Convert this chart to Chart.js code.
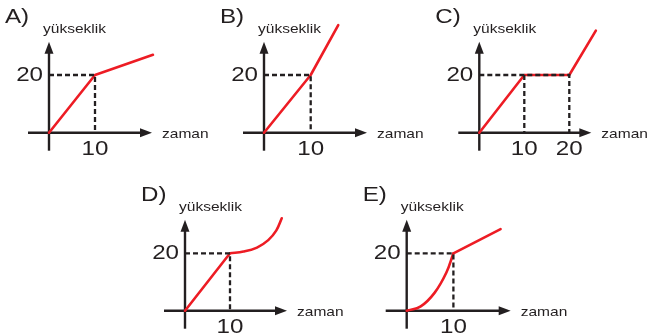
<!DOCTYPE html>
<html>
<head>
<meta charset="utf-8">
<script src="https://cdn.jsdelivr.net/npm/chart.js@4"></script>
<style>
  body { margin: 0; background: #fff; width: 649px; height: 336px; position: relative; overflow: hidden; }
  canvas { position: absolute; }
</style>
</head>
<body>
<script>
// ---------- data ----------
const PANEL_NAMES = ["A)", "B)", "C)", "D)", "E)"];
const Y_LABEL = "yükseklik";
const X_LABEL = "zaman";

const A_lineX = [0, 10, 22.6];
const A_lineY = [0, 20, 27];
const B_lineX = [0, 10, 15.9];
const B_lineY = [0, 20, 37.3];
const C_lineX = [0, 10, 20, 25.9];
const C_lineY = [0, 20, 20, 35.4];
const D_lineX = [0, 10];
const D_lineY = [0, 20];
const D_curveX = [10, 13, 16, 18.5, 20.3, 21.5];
const D_curveY = [20, 20.6, 22, 24.6, 28, 32.2];
const E_curveX = [0, 3, 6, 8.5, 10];
const E_curveY = [0, 1.5, 6.3, 13.3, 20];
const E_lineX = [10, 20.1];
const E_lineY = [20, 28.4];

// dashed guide lines
const guideX = [0, 10, 10];
const guideY = [20, 20, 0];
const C_guideX = [0, 20, 20];
const C_guideY = [20, 20, 0];
const C_guide2X = [10, 10];
const C_guide2Y = [20, 0];

// tick labels
const xTicks = [10];
const yTicks = [20];
const C_xTicks = [10, 20];

// ---------- layout (page pixels) ----------
const panels = [
  { left: 0,   top: 0,   w: 216, h: 168, ox: 49,    oy: 132.7, sx: 4.6,  sy: 2.885, xLen: 103,
    red: [[A_lineX, A_lineY, false]], guides: [[guideX, guideY]], xt: xTicks },
  { left: 215, top: 0,   w: 216, h: 168, ox: 264,   oy: 132.7, sx: 4.67, sy: 2.885, xLen: 103,
    red: [[B_lineX, B_lineY, false]], guides: [[guideX, guideY]], xt: xTicks },
  { left: 430, top: 0,   w: 219, h: 168, ox: 479.3, oy: 132.7, sx: 4.5,  sy: 2.885, xLen: 112,
    red: [[C_lineX, C_lineY, false]], guides: [[C_guideX, C_guideY], [C_guide2X, C_guide2Y]], xt: C_xTicks },
  { left: 130, top: 168, w: 216, h: 168, ox: 185,   oy: 310.7, sx: 4.5,  sy: 2.87,  xLen: 102,
    red: [[D_lineX, D_lineY, false], [D_curveX, D_curveY, true]], guides: [[guideX, guideY]], xt: xTicks },
  { left: 355, top: 168, w: 216, h: 168, ox: 406.7, oy: 310.7, sx: 4.67, sy: 2.87,  xLen: 104,
    red: [[E_curveX, E_curveY, true], [E_lineX, E_lineY, false]], guides: [[guideX, guideY]], xt: xTicks }
];

const RED = "#ed1c24";
const INK = "#231f20";
const FONT = '"Liberation Sans", Arial, sans-serif';
const HSCALE = 1.15;

function pts(xs, ys){ return xs.map((x, i) => ({ x, y: ys[i] })); }

function drawText(ctx, str, x, y, size, align, baseline){
  ctx.save();
  ctx.translate(x, y);
  ctx.scale(HSCALE, 1);
  ctx.font = `${size}px ${FONT}`;
  ctx.textAlign = align;
  ctx.textBaseline = baseline;
  ctx.fillStyle = INK;
  ctx.fillText(str, 0, 0);
  ctx.restore();
}

const sketchAxes = {
  id: "sketchAxes",
  beforeDatasetsDraw(chart, args, opts){
    const { ctx, scales: { x, y } } = chart;
    const ox = x.getPixelForValue(0), oy = y.getPixelForValue(0);
    ctx.save();
    ctx.strokeStyle = INK;
    ctx.fillStyle = INK;
    ctx.lineWidth = 2.4;
    // vertical axis
    ctx.beginPath(); ctx.moveTo(ox, oy + 18); ctx.lineTo(ox, oy - 82); ctx.stroke();
    ctx.beginPath();
    ctx.moveTo(ox, oy - 91); ctx.lineTo(ox - 4.5, oy - 79); ctx.lineTo(ox + 4.5, oy - 79);
    ctx.closePath(); ctx.fill();
    // horizontal axis
    const len = opts.xLen;
    ctx.beginPath(); ctx.moveTo(ox - 21, oy); ctx.lineTo(ox + len - 9, oy); ctx.stroke();
    ctx.beginPath();
    ctx.moveTo(ox + len, oy); ctx.lineTo(ox + len - 12, oy - 4.5); ctx.lineTo(ox + len - 12, oy + 4.5);
    ctx.closePath(); ctx.fill();
    ctx.restore();
  },
  afterDatasetsDraw(chart, args, opts){
    const { ctx, scales: { x, y } } = chart;
    const ox = x.getPixelForValue(0), oy = y.getPixelForValue(0);
    drawText(ctx, opts.name, ox - 44, oy - 115, 21, "left", "middle");
    drawText(ctx, Y_LABEL, ox - 6, oy - 99.5, 13.5, "left", "alphabetic");
    drawText(ctx, X_LABEL, ox + opts.xLen + 10, oy + 2, 13.5, "left", "middle");
    opts.yt.forEach(v => drawText(ctx, String(v), ox - 6, y.getPixelForValue(v), 21, "right", "middle"));
    opts.xt.forEach(v => drawText(ctx, String(v), x.getPixelForValue(v), oy + 17, 21, "center", "middle"));
  }
};

panels.forEach((p, i) => {
  const cv = document.createElement("canvas");
  cv.width = p.w; cv.height = p.h;
  cv.style.left = p.left + "px"; cv.style.top = p.top + "px";
  document.body.appendChild(cv);

  const datasets = [];
  p.guides.forEach(g => datasets.push({
    data: pts(g[0], g[1]), borderColor: INK, borderWidth: 2.3, borderDash: [5, 3],
    pointRadius: 0, tension: 0, clip: false
  }));
  p.red.forEach(r => datasets.push({
    data: pts(r[0], r[1]), borderColor: RED, borderWidth: 2.6,
    pointRadius: 0, tension: r[2] ? 0.4 : 0,
    clip: false, borderCapStyle: "round", borderJoinStyle: "round"
  }));

  new Chart(cv, {
    type: "line",
    data: { datasets },
    options: {
      responsive: false,
      animation: false,
      layout: { padding: 0 },
      scales: {
        x: { type: "linear", display: false,
             min: -(p.ox - p.left) / p.sx, max: (p.left + p.w - p.ox) / p.sx },
        y: { type: "linear", display: false,
             min: -(p.top + p.h - p.oy) / p.sy, max: (p.oy - p.top) / p.sy }
      },
      plugins: {
        legend: { display: false },
        tooltip: { enabled: false },
        sketchAxes: { name: PANEL_NAMES[i], xLen: p.xLen, xt: p.xt, yt: yTicks }
      }
    },
    plugins: [sketchAxes]
  });
});
</script>
</body>
</html>
